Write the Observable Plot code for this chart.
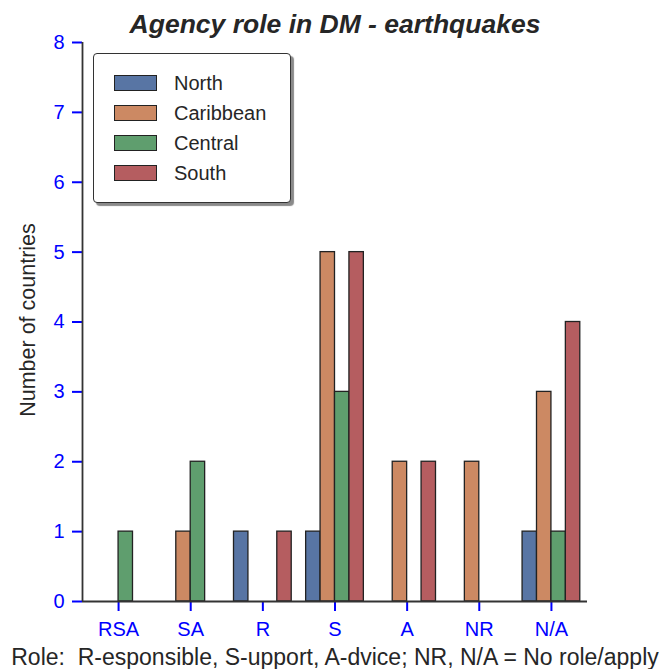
<!DOCTYPE html>
<html>
<head>
<meta charset="utf-8">
<script src="https://cdn.jsdelivr.net/npm/d3@7"></script>
<script src="https://cdn.jsdelivr.net/npm/@observablehq/plot@0.6"></script>
<style>
  html, body { margin: 0; padding: 0; background: #fff; overflow: hidden; }
  #wrap { position: relative; width: 660px; height: 669px; overflow: hidden; font-family: "Liberation Sans", Arial, sans-serif; }
  #legend { position: absolute; left: 93px; top: 53px; width: 196px; height: 148px; border: 1.5px solid #333; border-radius: 4px; background: #fff; box-shadow: 3px 3px 1px #8a8a8a; }
  .item { position: absolute; left: 20px; height: 20px; display: flex; align-items: center; font-size: 20px; color: #262626; }
  .sw { width: 41px; height: 14px; border: 1.3px solid #222; margin-right: 17px; }
</style>
</head>
<body>
<div id="wrap"></div>
<script>
const roles = ["RSA", "SA", "R", "S", "A", "NR", "N/A"];
const regions = ["North", "Caribbean", "Central", "South"];
const north = [0, 0, 1, 1, 0, 0, 1];
const caribbean = [0, 1, 0, 5, 2, 2, 3];
const central = [1, 2, 0, 3, 0, 0, 1];
const south = [0, 0, 1, 5, 2, 0, 4];
const colors = ["#5875a4", "#cc8963", "#5f9e6e", "#b55d60"];
const title = "Agency role in DM - earthquakes";
const yLabel = "Number of countries";
const xLabel = "Role:  R-esponsible, S-upport, A-dvice; NR, N/A = No role/apply";
const yTicks = [0, 1, 2, 3, 4, 5, 6, 7, 8];

const series = [north, caribbean, central, south];
const barW = 0.2;
const rows = [];
series.forEach((vals, j) => {
  vals.forEach((v, i) => {
    if (v > 0) rows.push({role: roles[i], region: regions[j], value: v, x1: i + (j - 2) * barW, x2: i + (j - 1) * barW});
  });
});
const xDomain = [-0.5, roles.length - 0.5];

const chart = Plot.plot({
  width: 660,
  height: 669,
  marginLeft: 82,
  marginRight: 73,
  marginTop: 42,
  marginBottom: 68,
  style: {fontFamily: '"Liberation Sans", Arial, sans-serif', background: "#fff", overflow: "visible"},
  x: {domain: xDomain},
  y: {domain: [0, 8]},
  color: {domain: regions, range: colors},
  marks: [
    Plot.rect(rows, {x1: "x1", x2: "x2", y1: 0, y2: "value", fill: "region", stroke: "#222", strokeWidth: 1.3}),
    Plot.axisX({ticks: d3.range(roles.length), tickFormat: i => roles[i], tickSize: 10, tickPadding: 10, stroke: "#0000ff", fill: "#0000ff", fontSize: 20, strokeWidth: 2, label: null}),
    Plot.axisY({ticks: yTicks, tickSize: 10, tickPadding: 8, stroke: "#0000ff", fill: "#0000ff", fontSize: 20, strokeWidth: 2, label: null}),
    Plot.ruleY([0], {stroke: "#333", strokeWidth: 1.8}),
    Plot.ruleX([xDomain[0]], {y1: 0, y2: 8, stroke: "#333", strokeWidth: 1.8}),
    Plot.text([title], {frameAnchor: "top", dy: -18, lineAnchor: "middle", textAnchor: "middle", text: d => d, fontSize: 26.5, fontWeight: "bold", fontStyle: "italic", fill: "#262626"}),
    Plot.text([yLabel], {frameAnchor: "left", dx: -54, dy: -2, rotate: -90, lineAnchor: "middle", textAnchor: "middle", text: d => d, fontSize: 21.5, fill: "#262626"}),
    Plot.text([xLabel], {frameAnchor: "bottom", dy: 56, lineAnchor: "middle", textAnchor: "middle", text: d => d, fontSize: 23, fill: "#262626"})
  ]
});
const wrap = document.getElementById("wrap");
wrap.appendChild(chart);

const legend = document.createElement("div");
legend.id = "legend";
regions.forEach((r, j) => {
  const item = document.createElement("div");
  item.className = "item";
  item.style.top = (19 + j * 30) + "px";
  const sw = document.createElement("span");
  sw.className = "sw";
  sw.style.background = colors[j];
  item.appendChild(sw);
  item.appendChild(document.createTextNode(r));
  legend.appendChild(item);
});
wrap.appendChild(legend);
</script>
</body>
</html>
